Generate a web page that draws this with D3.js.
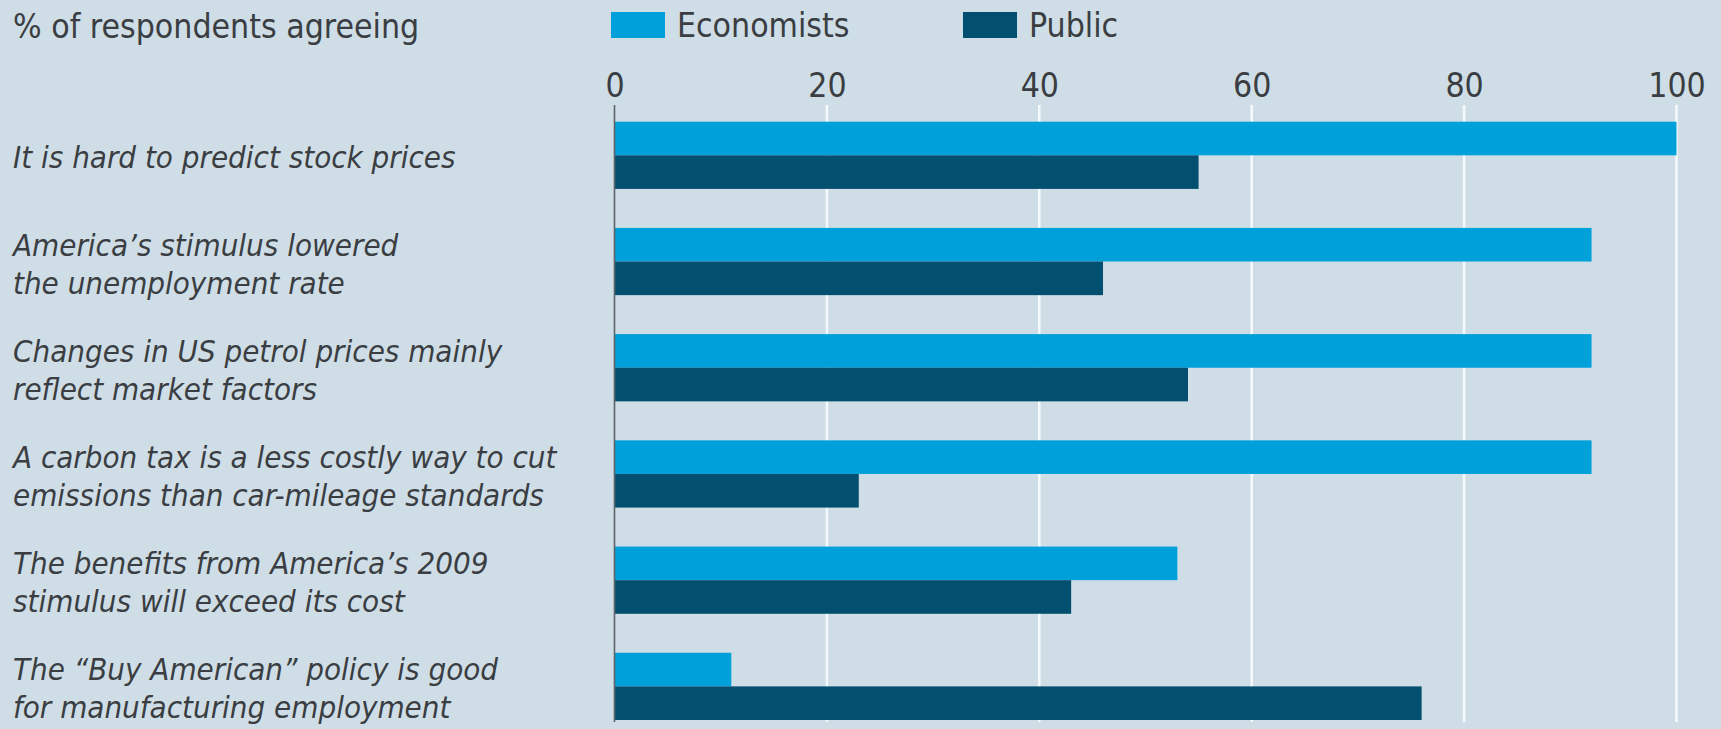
<!DOCTYPE html>
<html>
<head>
<meta charset="utf-8">
<script src="https://cdn.jsdelivr.net/npm/d3@7"></script>
<style>
  html, body { margin: 0; padding: 0; background: #cfdde6; }
  svg { display: block; }
  text { font-family: "Liberation Sans Narrow", "DejaVu Sans Condensed", "Roboto", sans-serif; fill: #3a3e42; }
</style>
</head>
<body>
<svg id="chart" width="1721" height="729"></svg>
<script>
// Survey statements (each entry holds the label lines)
const categories = [
  ["It is hard to predict stock prices"],
  ["America\u2019s stimulus lowered", "the unemployment rate"],
  ["Changes in US petrol prices mainly", "reflect market factors"],
  ["A carbon tax is a less costly way to cut", "emissions than car-mileage standards"],
  ["The benefits from America\u2019s 2009", "stimulus will exceed its cost"],
  ["The \u201cBuy American\u201d policy is good", "for manufacturing employment"]
];
const seriesNames = ["Economists", "Public"];
const economists = [100, 92, 92, 92, 53, 11];
const publicVals = [55, 46, 54, 23, 43, 76];
const tickValues = [0, 20, 40, 60, 80, 100];
const titleText = "% of respondents agreeing";

const colors = { Economists: "#00a0da", Public: "#034f6f" };

const W = 1721, H = 729;
const svg = d3.select("#chart");
svg.append("rect").attr("width", W).attr("height", H).attr("fill", "#cfdde6");

const keys = categories.map((c, i) => i);
const x = d3.scaleLinear().domain([0, 100]).range([614.5, 1676.5]);
const y = d3.scaleBand().domain(keys).range([102.2, 739.5])
  .paddingInner(0.367).paddingOuter(0.1835);
const ySub = d3.scaleBand().domain(seriesNames).range([0, y.bandwidth()]);

const gridTop = 105, gridBottom = 722;
const uprightSize = 33.5;

// vertical gridlines
svg.append("g").selectAll("line")
  .data(tickValues.filter(t => t > 0))
  .join("line")
  .attr("x1", d => x(d)).attr("x2", d => x(d))
  .attr("y1", gridTop).attr("y2", gridBottom)
  .attr("stroke", "#f4f9fc").attr("stroke-width", 2.6);

// tick labels along the top
const axis = d3.axisTop(x).tickValues(tickValues).tickSize(0).tickPadding(0);
const gAxis = svg.append("g").attr("transform", `translate(0, 97)`).call(axis);
gAxis.select(".domain").remove();
gAxis.selectAll("text")
  .attr("font-size", uprightSize)
  .attr("fill", "#3a3e42")
  .attr("dy", 0)
  .style("font-family", "\"Liberation Sans Narrow\", \"DejaVu Sans Condensed\", Roboto, sans-serif");

// bars
const rows = keys.map(i => ({ i, values: [
  { key: "Economists", v: economists[i] },
  { key: "Public", v: publicVals[i] }
]}));

const groups = svg.append("g").selectAll("g")
  .data(rows).join("g")
  .attr("transform", d => `translate(0, ${y(d.i)})`);

groups.selectAll("rect")
  .data(d => d.values).join("rect")
  .attr("x", x(0))
  .attr("y", d => ySub(d.key))
  .attr("width", d => x(d.v) - x(0))
  .attr("height", ySub.bandwidth())
  .attr("fill", d => colors[d.key]);

// zero line
svg.append("line")
  .attr("x1", x(0)).attr("x2", x(0))
  .attr("y1", gridTop).attr("y2", gridBottom)
  .attr("stroke", "#5d6469").attr("stroke-width", 1.6);

// category labels
const lineH = 38;
const labels = svg.append("g").selectAll("text")
  .data(rows).join("text")
  .attr("x", 13)
  .attr("font-size", 31)
  .attr("font-style", "italic")
  .attr("y", d => {
    const n = categories[d.i].length;
    const mid = y(d.i) + y.bandwidth() / 2;
    return mid - (n - 1) * lineH / 2 + 13;
  });
labels.selectAll("tspan")
  .data(d => categories[d.i]).join("tspan")
  .attr("x", 13)
  .attr("dy", (d, j) => j === 0 ? 0 : lineH)
  .text(d => d);

// title
svg.append("text")
  .attr("x", 13).attr("y", 38)
  .attr("font-size", uprightSize)
  .text(titleText);

// legend
const legendX = [611, 963];
const legend = svg.append("g").selectAll("g")
  .data(seriesNames).join("g")
  .attr("transform", (d, i) => `translate(${legendX[i]}, 12)`);
legend.append("rect")
  .attr("width", 54).attr("height", 26)
  .attr("fill", d => colors[d]);
legend.append("text")
  .attr("x", 66).attr("y", 25)
  .attr("font-size", uprightSize)
  .text(d => d);
</script>
</body>
</html>
